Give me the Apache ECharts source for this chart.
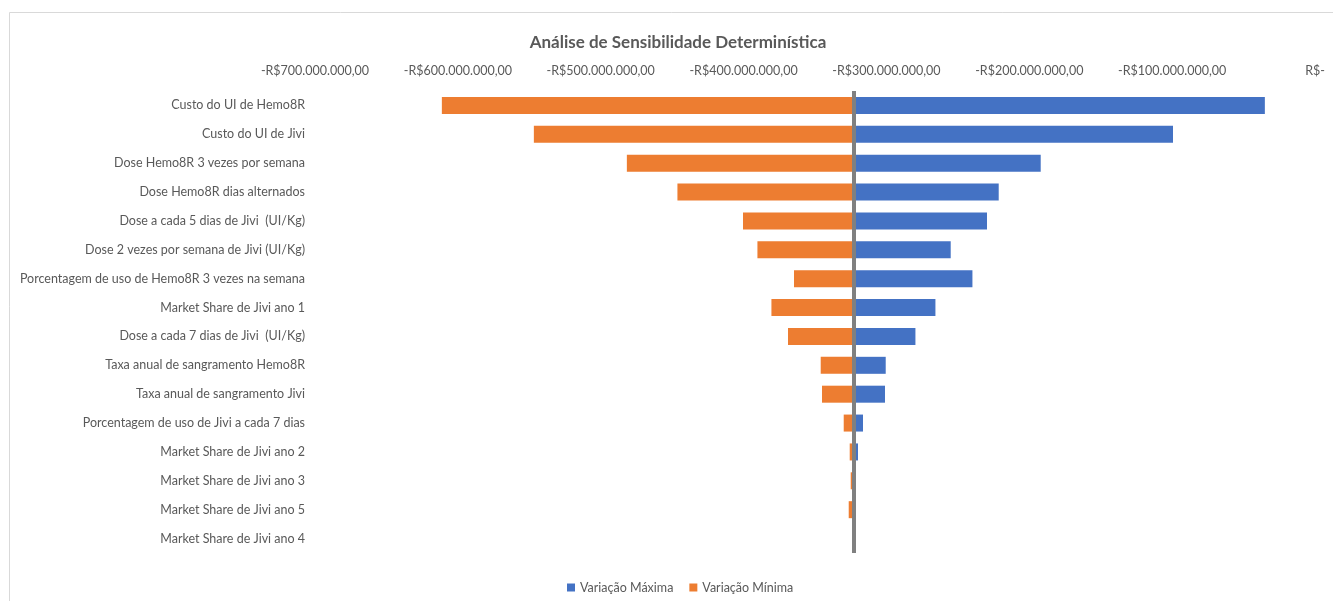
<!DOCTYPE html>
<html>
<head>
<meta charset="utf-8">
<script src="https://cdn.jsdelivr.net/npm/echarts@6/dist/echarts.min.js"></script>
<style>
html,body{margin:0;padding:0;background:#fff;}
#chart{width:1333px;height:601px;}
</style>
</head>
<body>
<div id="chart"></div>
<script>
// Categories (top to bottom)
const categories = [
  'Custo do UI de Hemo8R',
  'Custo do UI de Jivi',
  'Dose Hemo8R 3 vezes por semana',
  'Dose Hemo8R dias alternados',
  'Dose a cada 5 dias de Jivi  (UI/Kg)',
  'Dose 2 vezes por semana de Jivi (UI/Kg)',
  'Porcentagem de uso de Hemo8R 3 vezes na semana',
  'Market Share de Jivi ano 1',
  'Dose a cada 7 dias de Jivi  (UI/Kg)',
  'Taxa anual de sangramento Hemo8R',
  'Taxa anual de sangramento Jivi',
  'Porcentagem de uso de Jivi a cada 7 dias',
  'Market Share de Jivi ano 2',
  'Market Share de Jivi ano 3',
  'Market Share de Jivi ano 5',
  'Market Share de Jivi ano 4'
];
// Base case result (R$)
const baseValue = -322700000;
// Variação Máxima (blue) – result value (R$)
const variacaoMaxima = [
  -35100000, -99400000, -192000000, -221400000, -229600000, -255000000,
  -239800000, -265700000, -279700000, -300500000, -301000000, -316400000,
  -319900000, -322000000, -322700000, -322700000
];
// Variação Mínima (orange) – result value (R$)
const variacaoMinima = [
  -611200000, -546800000, -481700000, -446300000, -400400000, -390300000,
  -364700000, -380500000, -368900000, -346000000, -345100000, -329900000,
  -325700000, -325000000, -326400000, -322700000
];
// X axis ticks (R$)
const axisMin = -700000000;
const axisMax = 0;
const axisStep = 100000000;

function fmtBRL(v) {
  if (Math.abs(v) < 1) return 'R$-';
  const neg = v < 0;
  const s = Math.round(Math.abs(v)).toString().replace(/\B(?=(\d{3})+(?!\d))/g, '.');
  return (neg ? '-' : '') + 'R$' + s + ',00';
}

// stacked segments: 0 -> blueEnd (hidden), blueEnd -> base (blue), base -> orangeEnd (orange)
const hiddenSeg = variacaoMaxima.map(v => v);
const blueSeg = variacaoMaxima.map(v => baseValue - v);
const orangeSeg = variacaoMinima.map(v => v - baseValue);

const FONT = 'Lato, "Liberation Sans", sans-serif';
const chart = echarts.init(document.getElementById('chart'), null, {renderer: 'canvas'});
chart.setOption({
  animation: false,
  backgroundColor: '#ffffff',
  title: {
    text: 'Análise de Sensibilidade Determinística',
    left: 673, top: 29, textAlign: 'center',
    textStyle: {fontFamily: FONT, fontSize: 17, fontWeight: 'bold', color: '#595959'}
  },
  graphic: [{
    type: 'polyline', silent: true,
    shape: {points: [[9.5, 601], [9.5, 12.5], [1333, 12.5]]},
    style: {stroke: '#d9d9d9', lineWidth: 1, fill: null}
  }],
  legend: {
    data: ['Variação Máxima', 'Variação Mínima'],
    left: 562, top: 576,
    itemWidth: 8, itemHeight: 8, itemGap: 16, icon: 'rect',
    textStyle: {fontFamily: FONT, fontSize: 12.5, color: '#595959'}
  },
  grid: {left: 315, right: 18, top: 91, bottom: 48, containLabel: false},
  xAxis: {
    type: 'value', position: 'top',
    min: axisMin, max: axisMax, interval: axisStep,
    axisLine: {show: false}, axisTick: {show: false}, splitLine: {show: false},
    axisLabel: {formatter: fmtBRL, fontFamily: FONT, fontSize: 12.5, color: '#595959', margin: 14}
  },
  yAxis: {
    type: 'category', data: categories, inverse: true,
    axisLine: {show: false}, axisTick: {show: false},
    axisLabel: {fontFamily: FONT, fontSize: 12.5, color: '#595959', margin: 10}
  },
  series: [
    {
      name: 'hidden', type: 'bar', stack: 't', data: hiddenSeg, barWidth: 17,
      itemStyle: {color: 'rgba(0,0,0,0)'}, silent: true,
      markLine: {
        silent: true, symbol: ['none', 'none'], label: {show: false},
        lineStyle: {color: '#808080', width: 4, type: 'solid'},
        data: [{xAxis: baseValue}], z: 10
      }
    },
    {name: 'Variação Máxima', type: 'bar', stack: 't', data: blueSeg, barWidth: 17,
      itemStyle: {color: '#4472C4'}},
    {name: 'Variação Mínima', type: 'bar', stack: 't', data: orangeSeg, barWidth: 17,
      itemStyle: {color: '#ED7D31'}}
  ]
});
</script>
</body>
</html>
